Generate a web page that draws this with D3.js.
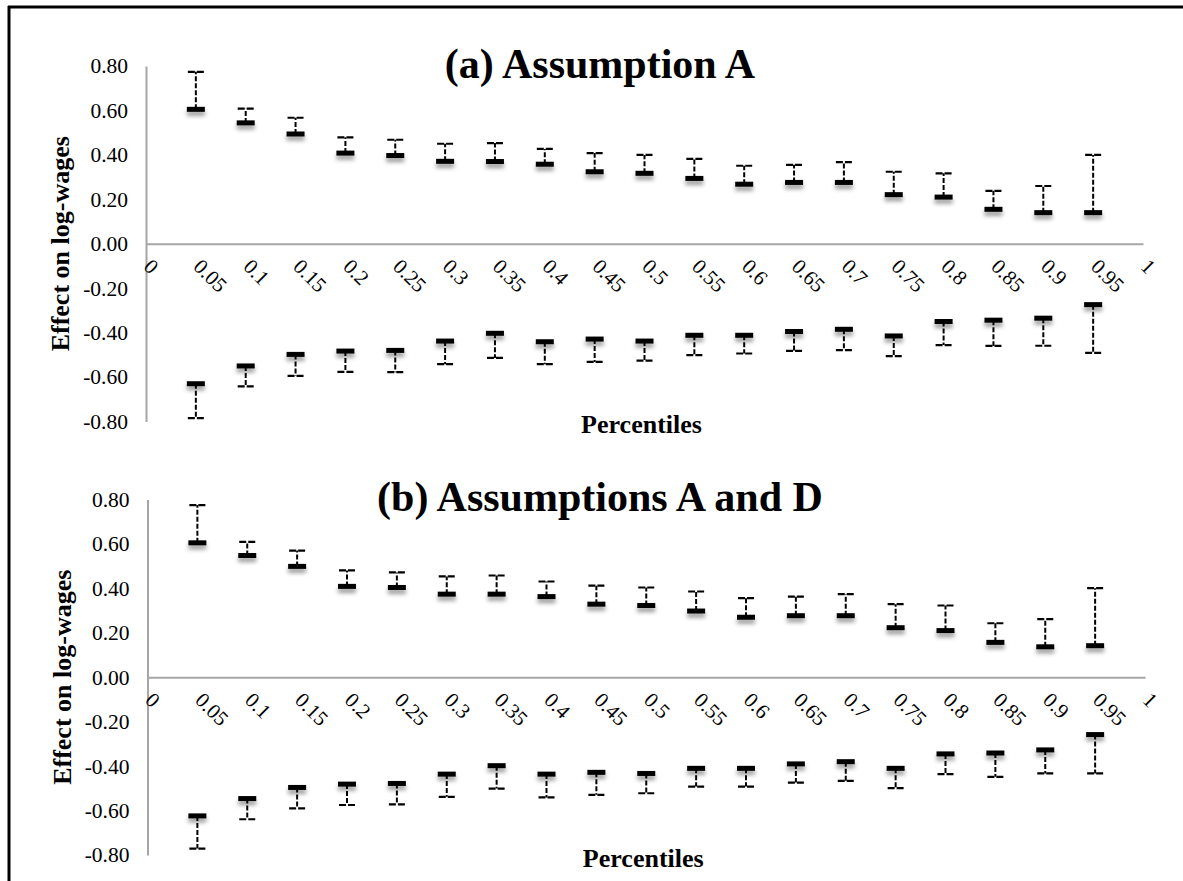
<!DOCTYPE html>
<html>
<head>
<meta charset="utf-8">
<script src="https://cdn.jsdelivr.net/npm/d3@7"></script>
<style>
  html, body { margin: 0; padding: 0; background: #fff; overflow: hidden; }
  svg { display: block; }
  text { font-family: "Liberation Serif", "Times New Roman", serif; fill: #000; }
</style>
</head>
<body>
<svg></svg>
<script>
const width = 1183;
const height = 881;

// percentiles on the x axis
const percentiles = [0.05, 0.1, 0.15, 0.2, 0.25, 0.3, 0.35, 0.4, 0.45, 0.5,
                     0.55, 0.6, 0.65, 0.7, 0.75, 0.8, 0.85, 0.9, 0.95];
const xTickValues = [0, 0.05, 0.1, 0.15, 0.2, 0.25, 0.3, 0.35, 0.4, 0.45, 0.5,
                     0.55, 0.6, 0.65, 0.7, 0.75, 0.8, 0.85, 0.9, 0.95, 1];
const xTickLabels = ['0', '0.05', '0.1', '0.15', '0.2', '0.25', '0.3', '0.35', '0.4', '0.45', '0.5',
                     '0.55', '0.6', '0.65', '0.7', '0.75', '0.8', '0.85', '0.9', '0.95', '1'];
const yTickValues = [0.8, 0.6, 0.4, 0.2, 0, -0.2, -0.4, -0.6, -0.8];
const yTickLabels = ['0.80', '0.60', '0.40', '0.20', '0.00', '-0.20', '-0.40', '-0.60', '-0.80'];

// (a) Assumption A
const aPosLow  = [0.605, 0.544, 0.494, 0.408, 0.397, 0.371, 0.370, 0.358, 0.324, 0.317,
                  0.294, 0.268, 0.276, 0.276, 0.221, 0.210, 0.155, 0.140, 0.140];
const aPosHigh = [0.774, 0.608, 0.567, 0.479, 0.468, 0.450, 0.453, 0.427, 0.408, 0.400,
                  0.382, 0.351, 0.355, 0.367, 0.324, 0.317, 0.238, 0.260, 0.400];
const aNegHigh = [-0.630, -0.550, -0.498, -0.483, -0.480, -0.438, -0.403, -0.441, -0.429, -0.438,
                  -0.412, -0.412, -0.395, -0.385, -0.415, -0.350, -0.344, -0.335, -0.274];
const aNegLow  = [-0.785, -0.642, -0.595, -0.577, -0.578, -0.542, -0.514, -0.542, -0.532, -0.526,
                  -0.501, -0.494, -0.482, -0.479, -0.506, -0.456, -0.460, -0.459, -0.491];

// (b) Assumptions A and D
const bPosLow  = [0.605, 0.548, 0.499, 0.409, 0.404, 0.374, 0.374, 0.363, 0.329, 0.323,
                  0.298, 0.270, 0.277, 0.277, 0.223, 0.210, 0.157, 0.137, 0.142];
const bPosHigh = [0.775, 0.609, 0.570, 0.481, 0.472, 0.454, 0.458, 0.431, 0.412, 0.404,
                  0.386, 0.356, 0.363, 0.374, 0.329, 0.323, 0.243, 0.262, 0.401];
const bNegHigh = [-0.624, -0.546, -0.496, -0.481, -0.478, -0.436, -0.398, -0.436, -0.428, -0.433,
                  -0.410, -0.410, -0.390, -0.380, -0.410, -0.345, -0.341, -0.327, -0.258];
const bNegLow  = [-0.771, -0.639, -0.590, -0.575, -0.572, -0.538, -0.501, -0.541, -0.529, -0.522,
                  -0.492, -0.492, -0.474, -0.466, -0.499, -0.436, -0.448, -0.433, -0.433];

const svg = d3.select('svg')
    .attr('width', width)
    .attr('height', height);

svg.append('rect')
    .attr('width', width).attr('height', height)
    .attr('fill', '#fff');

const defs = svg.append('defs');
defs.append('filter')
    .attr('id', 'shadow')
    .attr('x', '-30%').attr('y', '-100%')
    .attr('width', '160%').attr('height', '400%')
  .append('feDropShadow')
    .attr('dx', 0).attr('dy', 4)
    .attr('stdDeviation', 2.2)
    .attr('flood-color', '#000')
    .attr('flood-opacity', 0.4);

// frame: top and left edges only
svg.append('line')
    .attr('x1', 8).attr('x2', width).attr('y1', 7).attr('y2', 7)
    .attr('stroke', '#000').attr('stroke-width', 3);
svg.append('line')
    .attr('x1', 9).attr('x2', 9).attr('y1', 6).attr('y2', height)
    .attr('stroke', '#000').attr('stroke-width', 3);

drawPanel({
    title: '(a) Assumption A', titleY: 78,
    x0: 146, x1: 1143, yTop: 66, yBot: 421.5,
    labelX: 60, percY: 433,
    posLow: aPosLow, posHigh: aPosHigh, negHigh: aNegHigh, negLow: aNegLow
});

drawPanel({
    title: '(b) Assumptions A and D', titleY: 511,
    x0: 147.5, x1: 1145, yTop: 499.5, yBot: 855,
    labelX: 62, percY: 867,
    posLow: bPosLow, posHigh: bPosHigh, negHigh: bNegHigh, negLow: bNegLow
});

function drawPanel(p){
    const g = svg.append('g');

    const x = d3.scaleLinear().domain([0, 1]).range([p.x0, p.x1]);
    const y = d3.scaleLinear().domain([0.8, -0.8]).range([p.yTop, p.yBot]);

    // y axis
    const yAxis = g.append('g')
        .attr('transform', `translate(${p.x0},0)`)
        .call(d3.axisLeft(y)
            .tickValues(yTickValues)
            .tickFormat((d, i) => yTickLabels[i])
            .tickSize(0)
            .tickPadding(18));
    yAxis.attr('font-family', null).attr('font-size', null);
    yAxis.select('.domain').attr('stroke', '#a6a6a6').attr('stroke-width', 2);
    yAxis.selectAll('text')
        .style('font-size', '21.5px')
        .attr('fill', '#000');

    // x axis at zero
    const xAxis = g.append('g')
        .attr('transform', `translate(0,${y(0)})`)
        .call(d3.axisBottom(x)
            .tickValues(xTickValues)
            .tickFormat((d, i) => xTickLabels[i])
            .tickSize(0));
    xAxis.attr('font-family', null).attr('font-size', null);
    xAxis.select('.domain').attr('stroke', '#a6a6a6').attr('stroke-width', 2);
    xAxis.selectAll('text')
        .style('font-size', '21px')
        .attr('fill', '#000')
        .attr('text-anchor', 'start')
        .attr('dy', 0)
        .attr('y', 0)
        .attr('transform', 'translate(-4,24) rotate(45)');

    // titles
    g.append('text')
        .attr('x', 600)
        .attr('y', p.titleY)
        .attr('text-anchor', 'middle')
        .style('font-size', '42px')
        .attr('font-weight', 'bold')
        .text(p.title);

    g.append('text')
        .attr('transform', `translate(${p.labelX + 9},${y(0)}) rotate(-90)`)
        .attr('text-anchor', 'middle')
        .style('font-size', '26px')
        .attr('font-weight', 'bold')
        .text('Effect on log-wages');

    g.append('text')
        .attr('x', (p.x0 + p.x1) / 2 - 3)
        .attr('y', p.percY)
        .attr('text-anchor', 'middle')
        .style('font-size', '26px')
        .attr('font-weight', 'bold')
        .text('Percentiles');

    const rows = [];
    percentiles.forEach((q, i) => {
        rows.push({q: q, inner: p.posLow[i], outer: p.posHigh[i]});
        rows.push({q: q, inner: p.negHigh[i], outer: p.negLow[i]});
    });

    const bars = g.append('g').selectAll('g')
        .data(rows)
        .enter()
        .append('g');

    // dashed stem
    bars.append('line')
        .attr('x1', d => x(d.q)).attr('x2', d => x(d.q))
        .attr('y1', d => y(d.inner)).attr('y2', d => y(d.outer))
        .attr('stroke', '#000')
        .attr('stroke-width', 2)
        .attr('stroke-dasharray', '5,2');

    // thin dashed cap at outer end
    bars.append('line')
        .attr('x1', d => x(d.q) - 8).attr('x2', d => x(d.q) + 8)
        .attr('y1', d => y(d.outer)).attr('y2', d => y(d.outer))
        .attr('stroke', '#000')
        .attr('stroke-width', 2.2)
        .attr('stroke-dasharray', '7,2');

    // thick marker at inner end
    bars.append('rect')
        .attr('x', d => x(d.q) - 9)
        .attr('y', d => y(d.inner) - 2.5)
        .attr('width', 18)
        .attr('height', 5)
        .attr('fill', '#000')
        .attr('filter', 'url(#shadow)');
}
</script>
</body>
</html>
